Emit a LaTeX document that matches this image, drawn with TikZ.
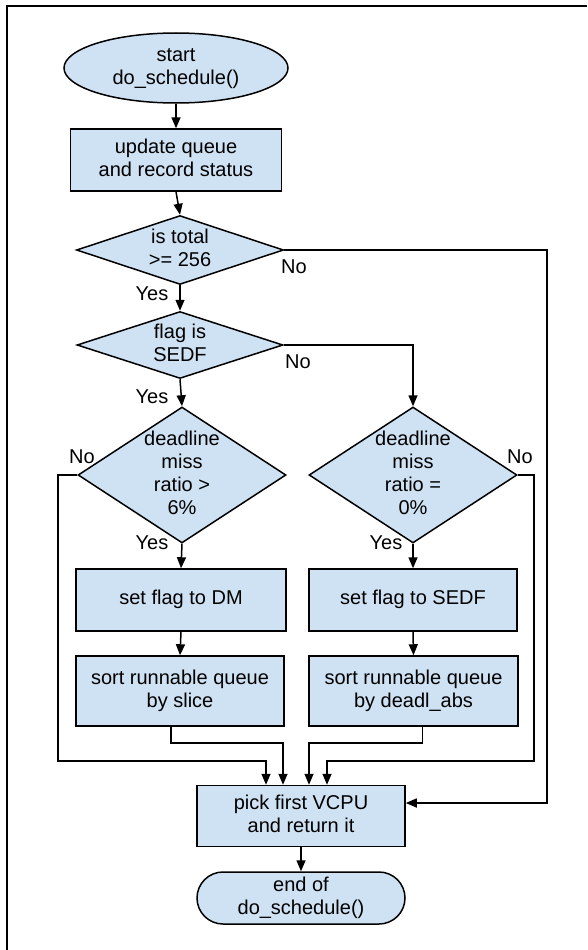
\documentclass[tikz,border=0pt]{standalone}
\usepackage{fontspec}
\setmainfont{Liberation Sans}
\usetikzlibrary{shapes.geometric,arrows.meta}
\definecolor{boxfill}{HTML}{CFE2F3}
\newcommand\ctext[1]{\makebox[0pt]{\raisebox{\dimexpr(\depth-\height)/2\relax}[0pt][0pt]{\begin{tabular}{@{}c@{}}#1\end{tabular}}}}
\begin{document}
\begin{tikzpicture}[x=1pt,y=-1pt,
  every node/.style={font=\fontsize{20}{23}\selectfont, inner sep=0pt},
  blk/.style={draw, line width=1.5pt, fill=boxfill},
  term/.style={blk, ellipse},
  dec/.style={blk, diamond},
  proc/.style={blk, rectangle},
  arr/.style={line width=1.5pt, -{Triangle[length=11pt,width=9pt]}},
  lbl/.style={}
]
\useasboundingbox (0,0) rectangle (587,950);
\draw[line width=2pt] (6.5,950) -- (6.5,6.5) -- (587,6.5);

\node[term, minimum width=224pt, minimum height=70pt] (start) at (176,68) {\ctext{start\\do\_schedule()}};
\node[proc, minimum width=211pt, minimum height=62pt] (upd) at (176,160) {\ctext{update queue\\and record status}};
\node[dec, minimum width=207pt, minimum height=69pt] (d1) at (180,250) {\ctext{is total\\>= 256}};
\node[dec, minimum width=206pt, minimum height=67pt] (d2) at (180,345) {\ctext{flag is\\SEDF}};
\node[dec, minimum width=208pt, minimum height=136pt] (d3) at (182,475) {\ctext{deadline\\miss\\ratio >\\6\%}};
\node[dec, minimum width=208pt, minimum height=136pt] (d4) at (413,475) {\ctext{deadline\\miss\\ratio =\\0\%}};
\node[proc, minimum width=210pt, minimum height=62pt] (dm) at (181,600) {\ctext{set flag to DM}};
\node[proc, minimum width=208pt, minimum height=62pt] (sedf) at (413,600) {\ctext{set flag to SEDF}};
\node[proc, minimum width=208pt, minimum height=70pt] (sortl) at (180,691) {\ctext{sort runnable queue\\by slice}};
\node[proc, minimum width=209pt, minimum height=70pt] (sortr) at (413.5,691) {\ctext{sort runnable queue\\by deadl\_abs}};
\node[proc, minimum width=208pt, minimum height=61pt] (pick) at (301,816) {\ctext{pick first VCPU\\and return it}};
\node[proc, rounded corners=26pt, minimum width=208pt, minimum height=52pt] (stop) at (301,898) {\ctext{end of\\do\_schedule()}};

\coordinate (r1) at (547,803);
\coordinate (cL) at (58,761);
\coordinate (cR) at (534,761);
\coordinate (sL) at (283,743);
\coordinate (sR) at (309,743);

\draw[arr] (start) -- (upd);
\draw[arr] (upd.south) -- (d1.north);
\draw[arr] (d1.east) -| (r1) -- (r1 -| pick.east);
\draw[arr] (d1.south) -- (d2.north);
\draw[arr] (d2.east) -| (d4.north);
\draw[arr] (d2.south) -- (d3.north);
\draw[arr] (d3.south) -- (dm.north);
\draw[arr] (d4.south) -- (sedf.north);
\draw[arr] (dm.south) -- (sortl.north);
\draw[arr] (sedf.south) -- (sortr.north);
\draw[arr] (d3.west) -| (cL) -| ([xshift=-35pt]pick.north);
\draw[arr] (d4.east) -| (cR) -| ([xshift=26pt]pick.north);
\draw[arr] ([xshift=-9pt]sortl.south) |- (sL) -- (sL |- pick.north);
\draw[arr] ([xshift=9pt]sortr.south) |- (sR) -- (sR |- pick.north);
\draw[arr] (pick) -- (stop);

\node[lbl] (l1) at (294,267) {No};
\node[lbl] (l2) at (152,294) {Yes};
\node[lbl] (l3) at (298,362) {No};
\node[lbl] (l4) at (152,397) {Yes};
\node[lbl] (l5) at (82,457) {No};
\node[lbl] (l6) at (520,457) {No};
\node[lbl] (l7) at (152,543) {Yes};
\node[lbl] (l8) at (386,543) {Yes};
\end{tikzpicture}
\end{document}
